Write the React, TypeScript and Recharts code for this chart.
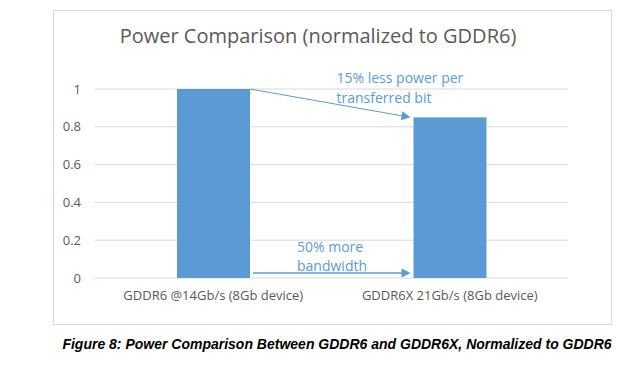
import React from 'react';
import { BarChart, Bar, XAxis, YAxis, CartesianGrid } from 'recharts';

const categories = ['GDDR6 @14Gb/s (8Gb device)', 'GDDR6X 21Gb/s (8Gb device)'];
const powerValues = [1, 0.85];
const yTicks = [0, 0.2, 0.4, 0.6, 0.8, 1];
const powerNote = ['15% less power per', 'transferred bit'];
const bandwidthNote = ['50% more', 'bandwidth'];

const data = categories.map((name, i) => ({ name, power: powerValues[i] }));

const W = 643;
const H = 373;
const Y_AXIS_W = 95;
const margin = { top: 89, right: 75, bottom: 65, left: 0 };
const BAND = (W - margin.left - Y_AXIS_W - margin.right) / categories.length;
const BLUE = '#5b9bd5';
const GREY = '#595959';
const FONT = '"Open Sans", "Noto Sans", sans-serif';

const ArrowHead = ({ x, y, angle }: { x: number; y: number; angle: number }) => {
  const len = 9;
  const half = 4.5;
  const c = Math.cos(angle);
  const s = Math.sin(angle);
  const bx = x - len * c;
  const by = y - len * s;
  const pts = [
    [x, y],
    [bx - half * s, by + half * c],
    [bx + half * s, by - half * c],
  ];
  return <polygon points={pts.map((p) => p.join(',')).join(' ')} fill={BLUE} />;
};

// bar shape; the first bar also draws the two annotation arrows
const BarShape = (props: any) => {
  const { x, y, width, height, index } = props;
  const rect = <rect x={x} y={y} width={width} height={height} fill={BLUE} />;
  if (index !== 0) return rect;

  const baseline = y + height;
  const x2 = x + BAND - 3; // just before next bar
  const y2 = baseline - height * (powerValues[1] / powerValues[0]);
  const x1 = x + width;

  const a1 = Math.atan2(y2 - y, x2 - x1);
  const yb = baseline - 5;

  return (
    <g>
      {rect}
      <line x1={x1} y1={y} x2={x2 - 6 * Math.cos(a1)} y2={y2 - 6 * Math.sin(a1)} stroke={BLUE} strokeWidth={1} />
      <ArrowHead x={x2} y={y2} angle={a1} />
      <line x1={x1 + 3} y1={yb} x2={x2 - 6} y2={yb} stroke={BLUE} strokeWidth={1.5} />
      <ArrowHead x={x2} y={yb} angle={0} />
      {powerNote.map((t, i) => (
        <text key={t} x={x + BAND - 77} y={y - 6 + i * 20} fill={BLUE} fontSize={14} fontFamily={FONT}>
          {t}
        </text>
      ))}
      {bandwidthNote.map((t, i) => (
        <text key={t} x={x1 + 47} y={baseline - 26 + i * 19} fill={BLUE} fontSize={14} fontFamily={FONT}>
          {t}
        </text>
      ))}
    </g>
  );
};

export default function App() {
  return (
    <div style={{ position: 'absolute', left: 0, top: 0, width: W, height: H, background: '#fff' }}>
      <div
        style={{
          position: 'absolute',
          left: 53,
          top: 10,
          width: 559,
          height: 315,
          border: '1px solid #d9d9d9',
          boxSizing: 'border-box',
        }}
      />
      <div
        style={{
          position: 'absolute',
          left: 18,
          width: 600,
          top: 22,
          textAlign: 'center',
          fontFamily: FONT,
          fontSize: 20,
          color: GREY,
        }}
      >
        Power Comparison (normalized to GDDR6)
      </div>
      <div style={{ position: 'absolute', left: 0, top: 0 }}>
        <BarChart width={W} height={H} data={data} margin={margin} barSize={73}>
          <CartesianGrid vertical={false} stroke="#d9d9d9" />
          <XAxis
            dataKey="name"
            axisLine={false}
            tickLine={false}
            tickMargin={7}
            interval={0}
            tick={{ fill: GREY, fontSize: 13, fontFamily: FONT }}
          />
          <YAxis
            width={Y_AXIS_W}
            domain={[0, 1]}
            ticks={yTicks}
            axisLine={false}
            tickLine={false}
            tickMargin={8}
            tick={{ fill: GREY, fontSize: 13, fontFamily: FONT }}
          />
          <Bar dataKey="power" fill={BLUE} shape={BarShape} isAnimationActive={false} />
        </BarChart>
      </div>
      <div
        style={{
          position: 'absolute',
          left: 0,
          width: 674,
          top: 336,
          textAlign: 'center',
          fontFamily: '"Liberation Sans", Arial, sans-serif',
          fontWeight: 'bold',
          fontStyle: 'italic',
          fontSize: 14,
          color: '#000',
        }}
      >
        Figure 8: Power Comparison Between GDDR6 and GDDR6X, Normalized to GDDR6
      </div>
    </div>
  );
}
